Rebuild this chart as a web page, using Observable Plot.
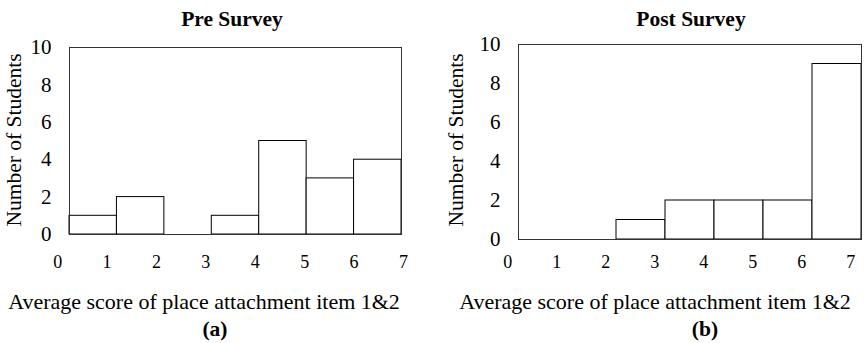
<!DOCTYPE html>
<html><head><meta charset="utf-8">
<script src="https://cdn.jsdelivr.net/npm/d3@7"></script>
<script src="https://cdn.jsdelivr.net/npm/@observablehq/plot@0.6"></script>
<style>
body{margin:0;background:#fff;}
#wrap{position:relative;width:864px;height:343px;overflow:hidden;font-family:"Liberation Serif","Times New Roman",serif;color:#000;}
.panel{position:absolute;top:0;width:432px;height:343px;}
.lbl{position:absolute;white-space:nowrap;transform:translate(-50%,-50%);line-height:1;}
.b{font-weight:bold;}
.rot{transform:translate(-50%,-50%) rotate(-90deg);}
</style>
</head><body>
<div id="wrap">
  <div class="panel" id="pre" style="left:0"></div>
  <div class="panel" id="post" style="left:432px"></div>
  <div class="lbl b" style="left:232px;top:20px;font-size:21.5px">Pre Survey</div>
  <div class="lbl b" style="left:691px;top:20px;font-size:21.5px">Post Survey</div>
  <div class="lbl rot" style="left:15px;top:140px;font-size:21.5px">Number of Students</div>
  <div class="lbl rot" style="left:457px;top:140px;font-size:21.5px">Number of Students</div>
  <div class="lbl" style="left:204px;top:302px;font-size:22px">Average score of place attachment item 1&amp;2</div>
  <div class="lbl" style="left:655px;top:302px;font-size:22px">Average score of place attachment item 1&amp;2</div>
  <div class="lbl b" style="left:215px;top:330px;font-size:21.5px">(a)</div>
  <div class="lbl b" style="left:705px;top:330px;font-size:21.5px">(b)</div>
</div>
<script>
const tickLabels = [0, 1, 2, 3, 4, 5, 6, 7];
const yTicks = [0, 2, 4, 6, 8, 10];
const preCounts = [1, 2, 0, 1, 5, 3, 4];
const postCounts = [0, 0, 1, 2, 2, 2, 9];
const preEdges = [0.24, 1.2, 2.16, 3.12, 4.08, 5.04, 6.0, 6.96];
const postEdges = [0.22, 1.22, 2.22, 3.22, 4.22, 5.22, 6.22, 7.22];

function hist(counts, edges, m, labelDy) {
  const bins = counts.map((c, i) => ({x1: edges[i], x2: edges[i + 1], y: c}));
  return Plot.plot({
    width: 432, height: 343,
    marginTop: m.top, marginBottom: m.bottom, marginLeft: m.left, marginRight: m.right,
    style: {fontFamily: '"Liberation Serif","Times New Roman",serif', color: "#000", background: "transparent"},
    x: {domain: [edges[0], edges[edges.length - 1]], axis: null},
    y: {domain: [0, 10], axis: null},
    marks: [
      Plot.rectY(bins, {x1: "x1", x2: "x2", y: "y", fill: "white", stroke: "#000", strokeWidth: 1}),
      Plot.frame({stroke: "#333", strokeWidth: 1}),
      Plot.text(yTicks, {y: d => d, frameAnchor: "left", textAnchor: "end", lineAnchor: "middle", dx: -18, fontSize: 21, fill: "#000"}),
      Plot.text(tickLabels, {x: d => d, frameAnchor: "bottom", lineAnchor: "middle", dy: labelDy, fontSize: 18, fill: "#000"})
    ]
  });
}

document.getElementById("pre").append(hist(preCounts, preEdges, {top: 47, bottom: 109, left: 69, right: 31}, 28));
document.getElementById("post").append(hist(postCounts, postEdges, {top: 44, bottom: 104, left: 86, right: 3}, 23));
</script>
</body></html>
